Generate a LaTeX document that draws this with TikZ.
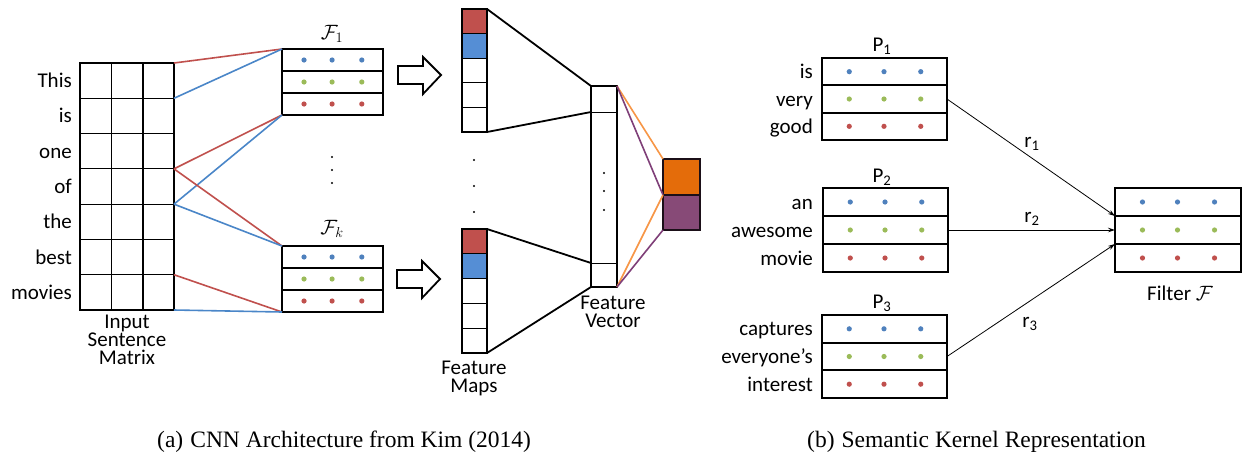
\documentclass[tikz,border=0pt]{standalone}
\usepackage{fontspec}
\setmainfont{Carlito}
\newfontfamily\capfont{Liberation Serif}
\usetikzlibrary{arrows.meta}
\definecolor{dblue}{HTML}{4F81BD}
\definecolor{dgreen}{HTML}{9BBB59}
\definecolor{dred}{HTML}{C0504D}
\definecolor{lred}{HTML}{C0504D}
\definecolor{lblue}{HTML}{4A86C8}
\definecolor{fred}{HTML}{C0504D}
\definecolor{fblue}{HTML}{558ED5}
\definecolor{forange}{HTML}{E46C0A}
\definecolor{fpurple}{HTML}{874A77}
\definecolor{lorange}{HTML}{F79646}
\definecolor{lpurple}{HTML}{7F3F78}
\tikzset{
  kbox/.style={draw, line width=2.2pt, rectangle, inner sep=0pt, outer sep=0pt},
  kline/.style={line width=2.2pt},
  plainbox/.style={draw, line width=1.3pt, rectangle, inner sep=0pt, outer sep=0pt},
  word/.style={font=\fontsize{21}{18}\selectfont, inner sep=0pt, anchor=base east},
  lbl/.style={font=\fontsize{21}{18}\selectfont, inner sep=0pt, anchor=base, align=center},
  mlbl/.style={font=\fontsize{20}{22}\selectfont, inner sep=0pt, anchor=base},
  redl/.style={draw=lred, line width=1.6pt},
  bluel/.style={draw=lblue, line width=1.6pt},
  orl/.style={draw=lorange, line width=1.6pt},
  pul/.style={draw=lpurple, line width=1.6pt},
  blk/.style={draw=black, line width=1.8pt},
  rarrow/.style={draw=black, line width=0.8pt, -{Stealth[length=7pt,width=4.5pt]}},
  hollow/.style={draw=black, line width=1.8pt, fill=white},
  captext/.style={font=\capfont\fontsize{23.5}{26}\selectfont, inner sep=0pt, anchor=base west},
}
\newcommand\KernelBox[5]{%
  \node[kbox, minimum width=#4pt, minimum height=#5pt, anchor=north west] (#1) at (#2,#3) {};
  \coordinate (#1-w1) at ({#2},{#3+#5/3});
  \coordinate (#1-w2) at ({#2},{#3+2*#5/3});
  \draw[kline] (#1-w1) -- ++(#4,0);
  \draw[kline] (#1-w2) -- ++(#4,0);
  \foreach \f in {0.218,0.496,0.79}{
    \fill[dblue] ({#2+\f*#4},{#3+#5/6}) circle (2.6);
    \fill[dgreen] ({#2+\f*#4},{#3+#5/2}) circle (2.6);
    \fill[dred] ({#2+\f*#4},{#3+5*#5/6}) circle (2.6);
  }%
}
\begin{document}
\begin{tikzpicture}[x=1pt,y=-1pt]
\useasboundingbox (0,0) rectangle (1255,451);
\fill[white] (0,0) rectangle (1255,451);

% ---------- (a) input sentence matrix ----------
\node[plainbox, line width=1.2pt, minimum width=94pt, minimum height=247pt, anchor=north west] (M) at (80,63) {};
\foreach \k in {0,...,7}{\coordinate (M-\k) at (174,{63+\k*247/7});}
\foreach \k in {1,...,6}{\draw[line width=1.2pt] (80,{63+\k*247/7}) -- (M-\k);}
\draw[line width=1.2pt] (111.7,63) -- (111.7,310);
\draw[line width=1.2pt] (143,63) -- (143,310);
\foreach \w [count=\i from 0] in {This,is,one,of,the,best,movies}{
  \node[word] (w\i) at (72,{63+(\i+0.5)*247/7+7}) {\w};
}
\node[lbl] (Mlab) at (127,364) {Input\\Sentence\\Matrix};

% ---------- kernels ----------
\KernelBox{F1}{282}{49}{101}{66}
\KernelBox{Fk}{282}{246}{101}{66}
\node[mlbl] (F1lab) at (332,39) {$\mathcal{F}_1$};
\node[mlbl] (Fklab) at (332,234) {$\mathcal{F}_k$};
\foreach \yy in {157,170,183}{\fill (332,\yy) circle (1.2);}

% connectors input -> kernels
\draw[redl] (M-0) -- (F1.north west);
\draw[bluel] (M-1) -- (F1.north west);
\draw[redl] (M-3) -- (F1.south west);
\draw[bluel] (M-4) -- (F1.south west);
\draw[redl] (M-3) -- (Fk.north west);
\draw[bluel] (M-4) -- (Fk.north west);
\draw[redl] (M-6) -- (Fk.south west);
\draw[bluel] (M-7) -- (Fk.south west);

% hollow arrows
\draw[hollow] (398,66) -- (423,66) -- (423,57) -- (441,75) -- (423,94) -- (423,84) -- (398,84) -- cycle;
\draw[hollow] (397,270) -- (422,270) -- (422,261) -- (440,279) -- (422,298) -- (422,288) -- (397,288) -- cycle;

% ---------- feature maps ----------
\fill[fred] (462,9) rectangle (487,33.6);
\fill[fblue] (462,33.6) rectangle (487,58.2);
\node[plainbox, minimum width=25pt, minimum height=123pt, anchor=north west] (FM1) at (462,9) {};
\foreach \k in {1,...,4}{\draw[line width=1pt] (462,{9+\k*24.6}) -- (487,{9+\k*24.6});}
\fill[fred] (462,229) rectangle (487,253.8);
\fill[fblue] (462,253.8) rectangle (487,278.6);
\node[plainbox, minimum width=25pt, minimum height=124pt, anchor=north west] (FMk) at (462,229) {};
\foreach \k in {1,...,4}{\draw[line width=1pt] (462,{229+\k*24.8}) -- (487,{229+\k*24.8});}
\foreach \yy in {160,186,212}{\fill (474,\yy) circle (1.2);}
\node[lbl] (FMlab) at (474,392) {Feature\\Maps};

% ---------- feature vector ----------
\node[plainbox, minimum width=26pt, minimum height=201pt, anchor=north west] (FV) at (591,86) {};
\coordinate (FV-1) at (591,112);
\coordinate (FV-2) at (591,263);
\draw[line width=1pt] (FV-1) -- ++(26,0);
\draw[line width=1pt] (FV-2) -- ++(26,0);
\foreach \yy in {173,191,210}{\fill (604,\yy) circle (1.1);}
\node[lbl] (FVlab) at (613,327) {Feature\\Vector};

\draw[blk] (FM1.north east) -- (FV.north west);
\draw[blk] (FM1.south east) -- (FV-1);
\draw[blk] (FMk.north east) -- (FV-2);
\draw[blk] (FMk.south east) -- (FV.south west);

% ---------- output ----------
\node[draw=black!80!fpurple, line width=2pt, fill=forange, minimum width=37pt, minimum height=36pt, inner sep=0pt, outer sep=0pt, anchor=north west] (OA) at (663,159) {};
\node[draw=black!80!fpurple, line width=2pt, fill=fpurple, minimum width=37pt, minimum height=35pt, inner sep=0pt, outer sep=0pt, anchor=north west] (OB) at (663,195) {};
\draw[orl] (FV.north east) -- (OA.north west);
\draw[pul] (FV.north east) -- (OB.north west);
\draw[orl] (FV.south east) -- (OB.north west);
\draw[pul] (FV.south east) -- (OB.south west);

% ---------- (b) ----------
\KernelBox{P1}{822}{58}{125}{82}
\KernelBox{P2}{823}{188}{125}{84}
\KernelBox{P3}{822}{315}{125}{83}
\KernelBox{Fil}{1115}{188}{126}{84}
\node[lbl] (P1lab) at (882,51) {P\textsubscript{1}};
\node[lbl] (P2lab) at (882,182) {P\textsubscript{2}};
\node[lbl] (P3lab) at (882,308) {P\textsubscript{3}};
\foreach \w [count=\i from 0] in {is,very,good}{\node[word] (pa\i) at (813,{58+(\i+0.5)*82/3+7}) {\w};}
\foreach \w [count=\i from 0] in {an,awesome,movie}{\node[word] (pb\i) at (813,{188+(\i+0.5)*84/3+7}) {\w};}
\foreach \w [count=\i from 0] in {captures,everyone’s,interest}{\node[word] (pc\i) at (813,{315+(\i+0.5)*83/3+7}) {\w};}
\node[lbl] (Fillab) at (1180,300) {Filter $\mathcal{F}$};

\draw[rarrow] (P1.east) -- (Fil-w1);
\draw[rarrow] (P2.east) -- (Fil.west);
\draw[rarrow] (P3.east) -- (Fil-w2);
\node[lbl] (r1) at (1032,147) {r\textsubscript{1}};
\node[lbl] (r2) at (1032,222) {r\textsubscript{2}};
\node[lbl] (r3) at (1030,327) {r\textsubscript{3}};

% captions
\node[captext] (capa) at (157,447) {(a)\hspace{0.3em}CNN Architecture from Kim (2014)};
\node[captext] (capb) at (807,447) {(b)\hspace{0.3em}Semantic Kernel Representation};
\end{tikzpicture}
\end{document}
